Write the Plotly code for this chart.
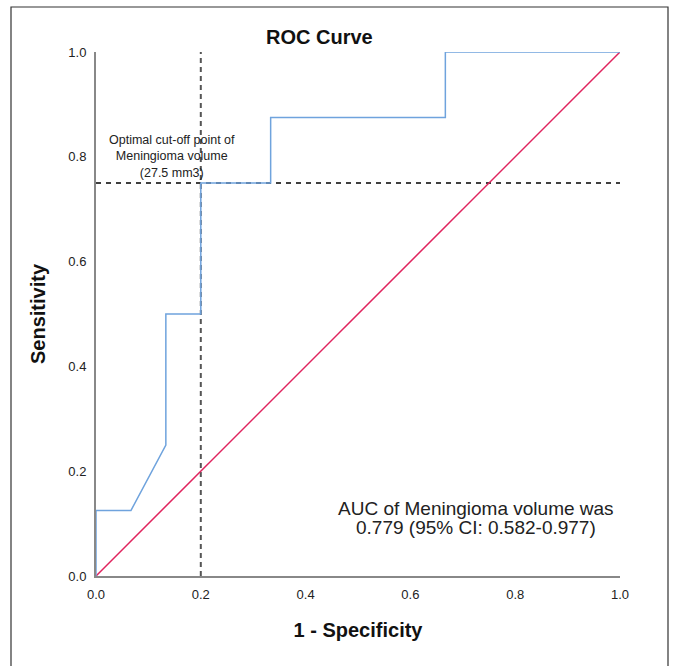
import plotly.graph_objects as go

# ROC curve data (1 - specificity, sensitivity)
fpr = [0.0, 0.0, 0.0667, 0.1333, 0.1333, 0.2, 0.2, 0.3333, 0.3333, 0.6667, 0.6667, 1.0]
tpr = [0.0, 0.125, 0.125, 0.25, 0.5, 0.5, 0.75, 0.75, 0.875, 0.875, 1.0, 1.0]
ref_x = [0.0, 1.0]
ref_y = [0.0, 1.0]
cutoff_x = 0.2
cutoff_y = 0.75
tick_vals = [0.0, 0.2, 0.4, 0.6, 0.8, 1.0]
tick_text = ["0.0", "0.2", "0.4", "0.6", "0.8", "1.0"]
cutoff_lines = ["Optimal cut-off point of", "Meningioma volume", "(27.5 mm3)"]
auc_lines = ["AUC of Meningioma volume was", "0.779 (95% CI: 0.582-0.977)"]

W, H = 673, 666
L, R, T, B = 96, 53, 52, 90
pw = W - L - R
ph = H - T - B

def px_x(p):
    return (p - L) / pw

def px_y(p):
    return (H - B - p) / ph

FONT = "Arial, Liberation Sans"

fig = go.Figure()
fig.add_trace(go.Scatter(x=[cutoff_x, cutoff_x], y=[0, 1], mode="lines",
                         line=dict(color="#555555", width=2, dash="5px,4px"), hoverinfo="skip"))
fig.add_trace(go.Scatter(x=[0, 1], y=[cutoff_y, cutoff_y], mode="lines",
                         line=dict(color="#000000", width=1.3, dash="5px,5px"), hoverinfo="skip"))
fig.add_trace(go.Scatter(x=ref_x, y=ref_y, mode="lines",
                         line=dict(color="#e0245e", width=1.5)))
fig.add_trace(go.Scatter(x=fpr, y=tpr, mode="lines",
                         line=dict(color="#6fa3dd", width=1.5)))

fig.add_annotation(x=px_x(172), y=px_y(156), xref="paper", yref="paper",
                   xanchor="center", yanchor="middle", text="<br>".join(cutoff_lines),
                   showarrow=False, align="center",
                   font=dict(family=FONT, size=12.5, color="#222"))
for i, line in enumerate(auc_lines):
    fig.add_annotation(x=px_x(476), y=px_y(508 + 19.5 * i), xref="paper", yref="paper",
                       xanchor="center", yanchor="middle", text=line, showarrow=False,
                       font=dict(family=FONT, size=19, color="#222"))
fig.add_annotation(x=px_x(319), y=px_y(37), xref="paper", yref="paper",
                   xanchor="center", yanchor="middle",
                   text="<b>ROC Curve</b>", showarrow=False,
                   font=dict(family=FONT, size=20, color="#111"))

# outer frame
fig.add_shape(type="rect", xref="paper", yref="paper",
              x0=px_x(11), x1=px_x(668), y0=px_y(700), y1=px_y(7),
              line=dict(color="#333", width=1.2), fillcolor="rgba(0,0,0,0)")

axis_common = dict(range=[0, 1], tickvals=tick_vals, ticktext=tick_text,
                   showgrid=False, zeroline=False, showline=True,
                   linecolor="#888", linewidth=2, ticks="outside", ticklen=5,
                   tickcolor="rgba(0,0,0,0)",
                   tickfont=dict(family=FONT, size=13, color="#222"))

fig.update_layout(
    width=W, height=H,
    margin=dict(l=L, r=R, t=T, b=B),
    paper_bgcolor="white", plot_bgcolor="white",
    showlegend=False,
    xaxis=dict(**axis_common,
               title=dict(text="<b>1 - Specificity</b>", standoff=22,
                          font=dict(family=FONT, size=20, color="#111"))),
    yaxis=dict(**axis_common,
               title=dict(text="<b>Sensitivity</b>", standoff=17,
                          font=dict(family=FONT, size=20, color="#111"))),
)

fig.write_html("out.html", config={"displayModeBar": False},
               post_script="document.body.style.margin='0';document.body.style.overflow='hidden';")
